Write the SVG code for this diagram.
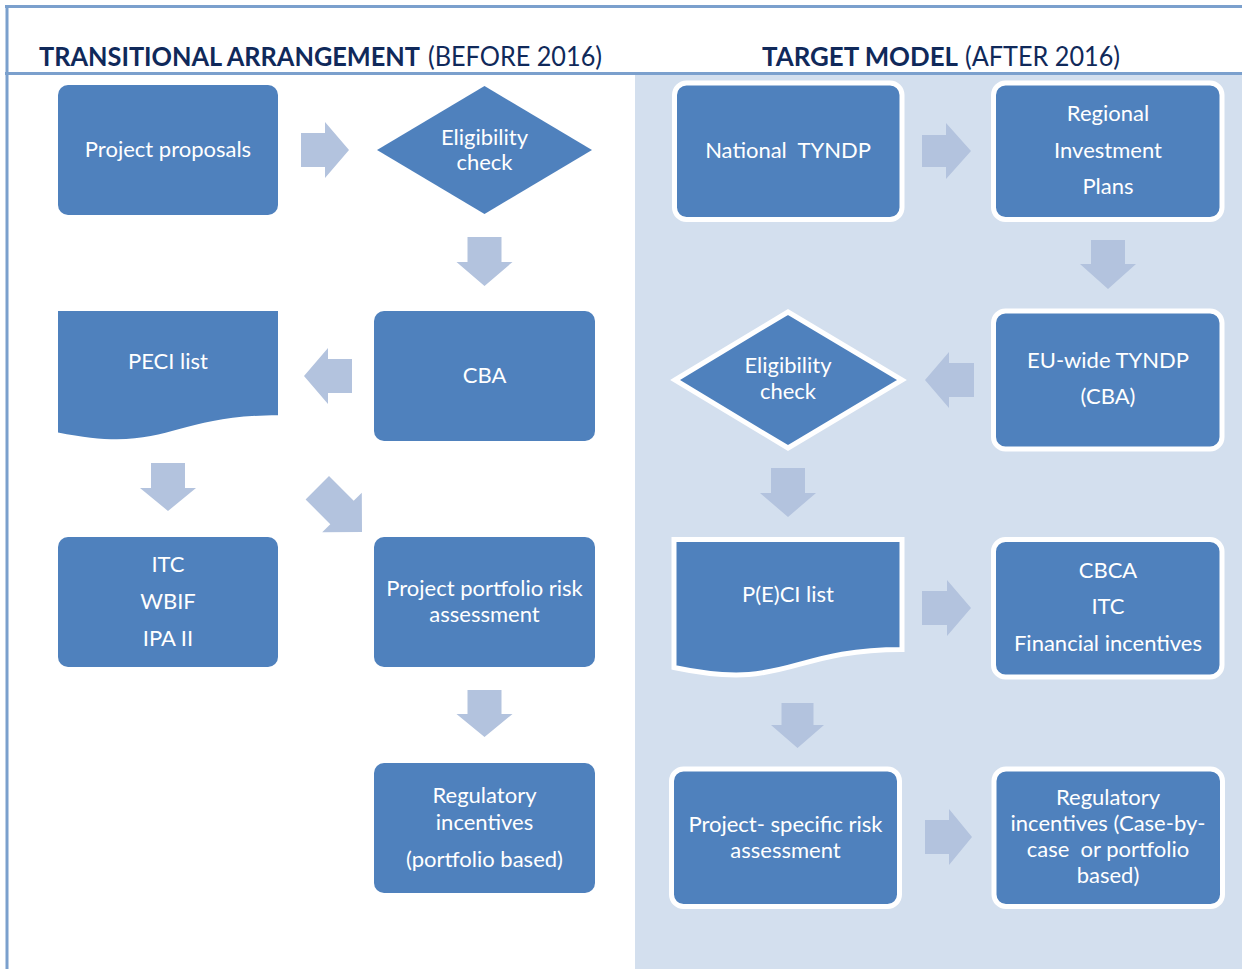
<svg xmlns="http://www.w3.org/2000/svg" width="1242" height="969" viewBox="0 0 1242 969">
<style>
.frame{stroke:#7BA0CD;stroke-width:3;fill:none}
.node{fill:#4F81BD}
.nodeR{fill:#4F81BD;stroke:#FFFFFF;stroke-width:5}
.arrow{fill:#B3C3DE}
.t{font-family:Lato,"Open Sans","Liberation Sans",sans-serif;font-size:22px;fill:#FFFFFF;text-anchor:middle}
.hb{font-family:Lato,"Open Sans","Liberation Sans",sans-serif;font-size:27px;font-weight:bold;fill:#10295A}
.hr{font-family:Lato,"Open Sans","Liberation Sans",sans-serif;font-size:27px;fill:#10295A}
</style>
<rect x="0" y="0" width="1242" height="969" fill="#FFFFFF"/>
<rect x="635" y="75" width="607" height="894" fill="#D3DFEE"/>
<g id="frame">
<line class="frame" x1="5" y1="6.5" x2="1242" y2="6.5"/>
<line class="frame" x1="5" y1="73.5" x2="1242" y2="73.5"/>
<line class="frame" x1="7" y1="5" x2="7" y2="969"/>
</g>
<g id="titles">
<text class="hb" x="39" y="66" textLength="381" lengthAdjust="spacingAndGlyphs">TRANSITIONAL ARRANGEMENT</text>
<text class="hr" x="428" y="66" textLength="174" lengthAdjust="spacingAndGlyphs">(BEFORE 2016)</text>
<text class="hb" x="762" y="66" textLength="196" lengthAdjust="spacingAndGlyphs">TARGET MODEL</text>
<text class="hr" x="965" y="66" textLength="155" lengthAdjust="spacingAndGlyphs">(AFTER 2016)</text>
</g>
<g id="connectors">
<polygon class="arrow" points="301,133 325,133 325,122 349,150 325,178 325,167 301,167"/>
<polygon class="arrow" points="467.5,237 501.5,237 501.5,262 512.5,262 484.5,286 456.5,262 467.5,262"/>
<polygon class="arrow" points="352,359 328,359 328,348 304,376 328,404 328,393 352,393"/>
<polygon class="arrow" points="151,463 185,463 185,488 196,488 168,511 140,488 151,488"/>
<polygon class="arrow" points="329,476 353.7,500.8 361.8,492.7 362,532 322.2,532.3 330.3,524.2 305.6,499.5"/>
<polygon class="arrow" points="467.5,690 501.5,690 501.5,714 512.5,714 484.5,737 456.5,714 467.5,714"/>
<polygon class="arrow" points="922,135 946,135 946,123 971,151 946,179 946,167 922,167"/>
<polygon class="arrow" points="1091,240 1125,240 1125,264 1136,264 1108,289 1080,264 1091,264"/>
<polygon class="arrow" points="974,363 949,363 949,352 925,380 949,408 949,397 974,397"/>
<polygon class="arrow" points="771,468 805,468 805,493 816,493 788,517 760,493 771,493"/>
<polygon class="arrow" points="922,591 947,591 947,580 971,608 947,636 947,625 922,625"/>
<polygon class="arrow" points="781.5,703 813.5,703 813.5,725 824,725 797.5,748 771,725 781.5,725"/>
<polygon class="arrow" points="925,820 949,820 949,809 972,837 949,865 949,854 925,854"/>
</g>
<g id="project-proposals">
<rect class="node" x="58" y="85" width="220" height="130" rx="10"/>
<text class="t" x="168" y="157">Project proposals</text>
</g>
<g id="eligibility-left">
<polygon class="node" points="377,150 484.5,86 592,150 484.5,214"/>
<text class="t" x="484.5" y="145">Eligibility</text>
<text class="t" x="484.5" y="170">check</text>
</g>
<g id="cba">
<rect class="node" x="374" y="311" width="221" height="130" rx="10"/>
<text class="t" x="484.5" y="383">CBA</text>
</g>
<g id="peci-list">
<path class="node" d="M58,311 H278 V415.2 C168,415.2 168,454.6 58,432.4 Z"/>
<text class="t" x="168" y="369">PECI list</text>
</g>
<g id="itc-wbif-ipa">
<rect class="node" x="58" y="537" width="220" height="130" rx="10"/>
<text class="t" x="168" y="572">ITC</text>
<text class="t" x="168" y="609">WBIF</text>
<text class="t" x="168" y="646">IPA II</text>
</g>
<g id="portfolio-risk">
<rect class="node" x="374" y="537" width="221" height="130" rx="10"/>
<text class="t" x="484.5" y="596">Project portfolio risk</text>
<text class="t" x="484.5" y="622">assessment</text>
</g>
<g id="regulatory-left">
<rect class="node" x="374" y="763" width="221" height="130" rx="10"/>
<text class="t" x="484.5" y="803">Regulatory</text>
<text class="t" x="484.5" y="830">incentives</text>
<text class="t" x="484.5" y="867">(portfolio based)</text>
</g>
<g id="national-tyndp">
<rect class="nodeR" x="674.5" y="83" width="227.5" height="136.5" rx="12"/>
<text class="t" x="788" y="158" xml:space="preserve">National  TYNDP</text>
</g>
<g id="regional-plans">
<rect class="nodeR" x="993.5" y="83" width="228.5" height="136.5" rx="12"/>
<text class="t" x="1108" y="121">Regional</text>
<text class="t" x="1108" y="158">Investment</text>
<text class="t" x="1108" y="194">Plans</text>
</g>
<g id="eu-tyndp">
<rect class="nodeR" x="993.5" y="311" width="228.5" height="138" rx="12"/>
<text class="t" x="1108" y="368">EU-wide TYNDP</text>
<text class="t" x="1108" y="404">(CBA)</text>
</g>
<g id="eligibility-right">
<polygon class="nodeR" points="675,380 788,312 902,380 788,448"/>
<text class="t" x="788" y="373">Eligibility</text>
<text class="t" x="788" y="399">check</text>
</g>
<g id="pecilist-right">
<path class="nodeR" d="M674,539.5 H902 V649.4 C788,649.4 788,691.6 674,667.5 Z"/>
<text class="t" x="788" y="602">P(E)CI list</text>
</g>
<g id="cbca-itc">
<rect class="nodeR" x="993.5" y="539.5" width="228.5" height="137.5" rx="12"/>
<text class="t" x="1108" y="578">CBCA</text>
<text class="t" x="1108" y="614">ITC</text>
<text class="t" x="1108" y="651">Financial incentives</text>
</g>
<g id="project-specific-risk">
<rect class="nodeR" x="671.5" y="769" width="228" height="137.5" rx="12"/>
<text class="t" x="785.5" y="832">Project- specific risk</text>
<text class="t" x="785.5" y="858">assessment</text>
</g>
<g id="regulatory-right">
<rect class="nodeR" x="994" y="769" width="228.5" height="137.5" rx="12"/>
<text class="t" x="1108" y="805">Regulatory</text>
<text class="t" x="1108" y="831">incentives (Case-by-</text>
<text class="t" x="1108" y="857" xml:space="preserve">case  or portfolio</text>
<text class="t" x="1108" y="883">based)</text>
</g>
</svg>
